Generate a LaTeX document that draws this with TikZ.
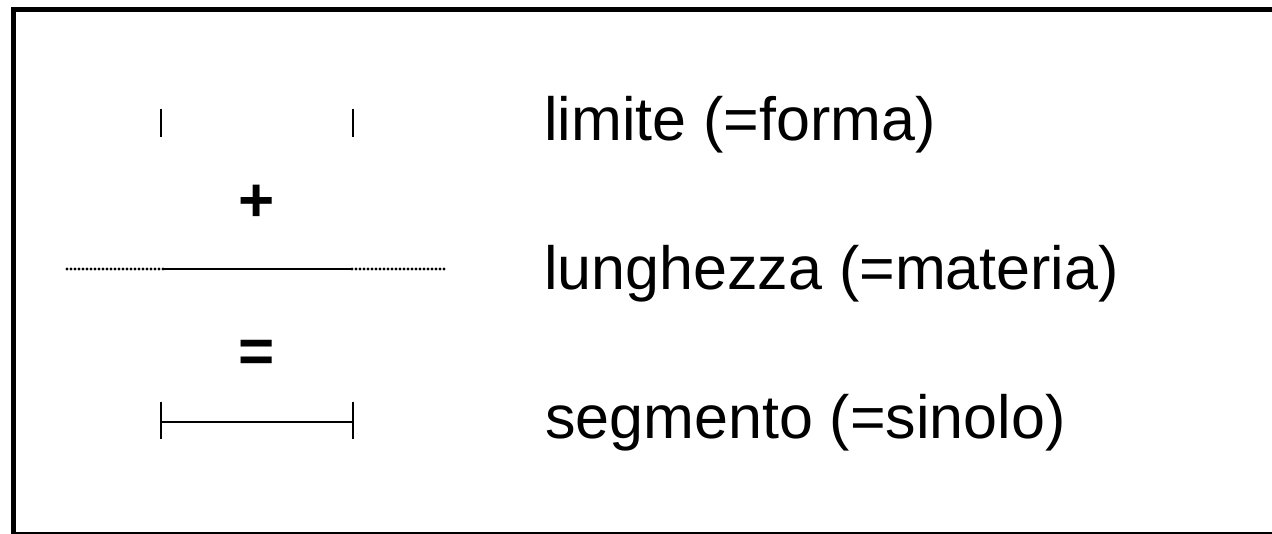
\documentclass[tikz,border=0pt]{standalone}
\usepackage{fontspec}
\setmainfont{Liberation Sans}
\begin{document}
\begin{tikzpicture}[x=1pt,y=1pt,
  lbl/.style={anchor=base west,inner sep=0pt,font=\fontsize{61}{72}\selectfont},
  op/.style={anchor=center,inner sep=0pt,font=\bfseries\fontsize{62}{72}\selectfont},
  tick/.style={line width=2pt},
  seg/.style={line width=2pt},
  dots/.style={line width=3.3pt,line cap=round,dash pattern=on 0pt off 4pt}]
\useasboundingbox (0,0) rectangle (1272,534);
\draw[line width=5pt] (13.5,524.5) -- (1290,524.5) -- (1290,-0.5) -- (13.5,-0.5) -- cycle;
% top ticks (limite)
\coordinate (t1a) at (161,425); \coordinate (t1b) at (161,397);
\coordinate (t2a) at (353,425); \coordinate (t2b) at (353,397);
\draw[tick] (t1a) -- (t1b);
\draw[tick] (t2a) -- (t2b);
% plus
\node[op] (plus) at (257,331) {+};
% middle line (lunghezza)
\coordinate (m0) at (67,265); \coordinate (m1) at (163,265);
\coordinate (m2) at (352,265); \coordinate (m3) at (447,265);
\draw[dots] (m0) -- (m1);
\draw[seg] (m1) -- (m2);
\draw[dots] (m2) -- (m3);
% equals
\node[op] (eq) at (257,178) {=};
% bottom segment
\coordinate (s1) at (161,112); \coordinate (s2) at (353,112);
\coordinate (s1a) at (161,132); \coordinate (s1b) at (161,95);
\coordinate (s2a) at (353,132); \coordinate (s2b) at (353,95);
\draw[seg] (s1) -- (s2);
\draw[tick] (s1a) -- (s1b);
\draw[tick] (s2a) -- (s2b);
% labels
\node[lbl] (l1) at (544,393) {limite (=forma)};
\node[lbl] (l2) at (544,244) {lunghezza (=materia)};
\node[lbl] (l3) at (545,95) {segmento (=sinolo)};
\end{tikzpicture}
\end{document}
